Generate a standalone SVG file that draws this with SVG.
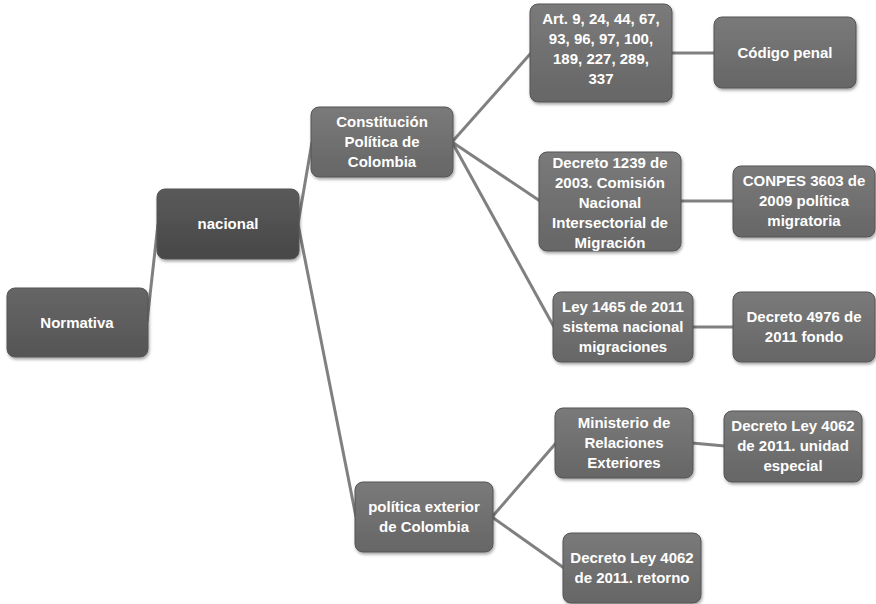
<svg xmlns="http://www.w3.org/2000/svg" width="876" height="604" viewBox="0 0 876 604">
<defs>
<linearGradient id="g" x1="0" y1="0" x2="0" y2="1"><stop offset="0" stop-color="#7a7a7a"/><stop offset="1" stop-color="#666"/></linearGradient>
<linearGradient id="gd" x1="0" y1="0" x2="0" y2="1"><stop offset="0" stop-color="#5a5a5a"/><stop offset="1" stop-color="#474747"/></linearGradient>
<linearGradient id="gn" x1="0" y1="0" x2="0" y2="1"><stop offset="0" stop-color="#666"/><stop offset="1" stop-color="#555"/></linearGradient>
<filter id="sh" x="-10%" y="-10%" width="130%" height="130%"><feDropShadow dx="1" dy="2" stdDeviation="1.5" flood-color="#000" flood-opacity="0.35"/></filter>
</defs>
<style>
rect{rx:8;ry:8;filter:url(#sh);stroke:#555;stroke-width:1}
.b rect{fill:url(#g)}
text{font-family:"Liberation Sans",Arial,sans-serif;font-weight:bold;font-size:15px;fill:#fff;text-anchor:middle}
#connectors line{stroke:#808080;stroke-width:3}
</style>
<rect x="0" y="0" width="876" height="604" fill="#fff" style="filter:none;stroke:none;rx:0"/>
<g id="connectors">
<line x1="147" y1="322" x2="158" y2="224"/>
<line x1="298" y1="224" x2="312" y2="142"/>
<line x1="298" y1="224" x2="356" y2="517"/>
<line x1="452" y1="142" x2="531" y2="53"/>
<line x1="452" y1="142" x2="540" y2="201"/>
<line x1="452" y1="142" x2="554" y2="327"/>
<line x1="671" y1="53" x2="715" y2="53"/>
<line x1="680" y1="201" x2="734" y2="201"/>
<line x1="692" y1="327" x2="734" y2="327"/>
<line x1="492" y1="517" x2="556" y2="443"/>
<line x1="492" y1="517" x2="564" y2="568"/>
<line x1="692" y1="443" x2="725" y2="446"/>
</g>
<g id="normativa"><rect x="7" y="288" width="141" height="69" fill="url(#gn)"/><text x="77" y="328">Normativa</text></g>
<g id="nacional"><rect x="157" y="189" width="142" height="70" fill="url(#gd)"/><text x="228" y="229">nacional</text></g>
<g id="constitucion" class="b"><rect x="311" y="107" width="142" height="70"/><text x="382" y="127">Constitución</text><text x="382" y="147">Política de</text><text x="382" y="167">Colombia</text></g>
<g id="art" class="b"><rect x="530" y="4" width="142" height="98"/><text x="601" y="24">Art. 9, 24, 44, 67,</text><text x="601" y="44">93, 96, 97, 100,</text><text x="601" y="64">189, 227, 289,</text><text x="601" y="84">337</text></g>
<g id="codigo" class="b"><rect x="714" y="17" width="142" height="71"/><text x="785" y="58">Código penal</text></g>
<g id="decreto1239" class="b"><rect x="539" y="152" width="142" height="99"/><text x="610" y="168">Decreto 1239 de</text><text x="610" y="188">2003. Comisión</text><text x="610" y="208">Nacional</text><text x="610" y="228">Intersectorial de</text><text x="610" y="248">Migración</text></g>
<g id="conpes" class="b"><rect x="733" y="166" width="142" height="71"/><text x="804" y="186">CONPES 3603 de</text><text x="804" y="206">2009 política</text><text x="804" y="226">migratoria</text></g>
<g id="ley1465" class="b"><rect x="553" y="292" width="140" height="70"/><text x="623" y="312">Ley 1465 de 2011</text><text x="623" y="332">sistema nacional</text><text x="623" y="352">migraciones</text></g>
<g id="decreto4976" class="b"><rect x="733" y="292" width="142" height="70"/><text x="804" y="322">Decreto 4976 de</text><text x="804" y="342">2011 fondo</text></g>
<g id="politica" class="b"><rect x="355" y="482" width="138" height="70"/><text x="424" y="512">política exterior</text><text x="424" y="532">de Colombia</text></g>
<g id="ministerio" class="b"><rect x="555" y="408" width="138" height="70"/><text x="624" y="428">Ministerio de</text><text x="624" y="448">Relaciones</text><text x="624" y="468">Exteriores</text></g>
<g id="unidad" class="b"><rect x="724" y="411" width="138" height="71"/><text x="793" y="431">Decreto Ley 4062</text><text x="793" y="451">de 2011. unidad</text><text x="793" y="471">especial</text></g>
<g id="retorno" class="b"><rect x="563" y="533" width="138" height="70"/><text x="632" y="563">Decreto Ley 4062</text><text x="632" y="583">de 2011. retorno</text></g>
</svg>
